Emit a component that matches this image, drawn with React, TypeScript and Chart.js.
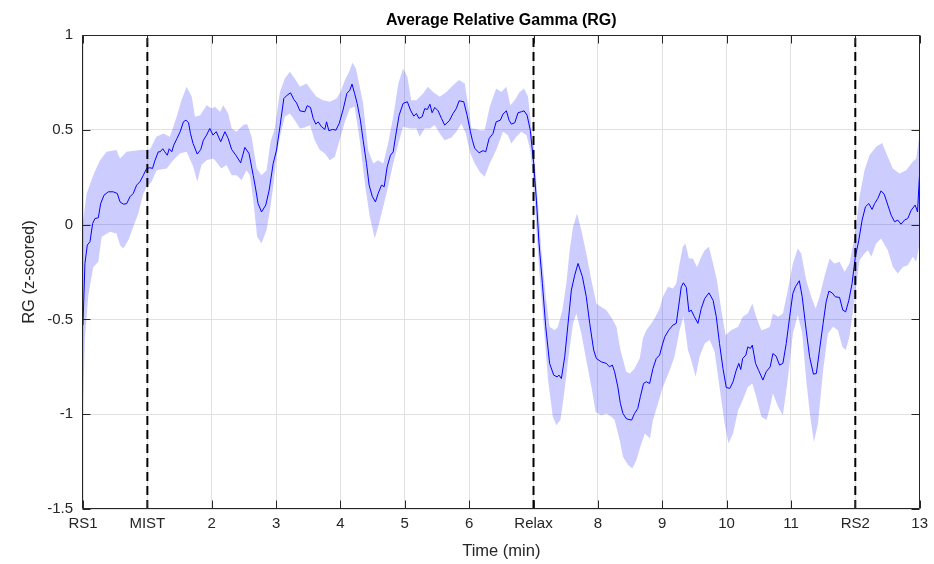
import React, { useEffect, useRef } from 'react';
import { Chart, registerables } from 'chart.js';

Chart.register(...registerables);

const chartTitle = 'Average Relative Gamma (RG)';
const xAxisTitle = 'Time (min)';
const yAxisTitle = 'RG (z-scored)';

const xTickValues = [0, 1, 2, 3, 4, 5, 6, 7, 8, 9, 10, 11, 12, 13];
const xTickLabels = ['RS1', 'MIST', '2', '3', '4', '5', '6', 'Relax', '8', '9', '10', '11', 'RS2', '13'];
const yTickValues = [-1.5, -1, -0.5, 0, 0.5, 1];
const yTickLabels = ['-1.5', '-1', '-0.5', '0', '0.5', '1'];
const eventTimes = [1, 7, 12];

const meanT = [
  0, 0.03, 0.067, 0.109, 0.15, 0.186, 0.238, 0.274, 0.326, 0.393, 0.47, 0.533, 0.575, 0.626, 0.678, 0.73, 0.78, 0.833, 0.885, 0.937, 0.989,
  1.04, 1.08, 1.12, 1.17, 1.2, 1.24, 1.27, 1.31, 1.34, 1.38, 1.41, 1.46, 1.51, 1.56, 1.6, 1.64, 1.67, 1.71, 1.775, 1.83, 1.87, 1.92, 1.97,
  2.02, 2.07, 2.14, 2.205, 2.256, 2.31, 2.375, 2.45, 2.515, 2.58, 2.645, 2.686, 2.72, 2.774, 2.84, 2.893, 2.955,
  3.007, 3.06, 3.12, 3.173, 3.225, 3.276, 3.318, 3.37, 3.447, 3.483, 3.535, 3.577, 3.618, 3.654, 3.706, 3.758, 3.784, 3.82, 3.877, 3.93, 3.98,
  4.04, 4.1, 4.146, 4.18, 4.22, 4.26, 4.31, 4.353, 4.405, 4.446, 4.497, 4.544, 4.586, 4.638, 4.68, 4.726, 4.778, 4.82, 4.86, 4.912, 4.974,
  5.04, 5.088, 5.14, 5.18, 5.22, 5.27, 5.31, 5.35, 5.39, 5.424, 5.466, 5.518, 5.57, 5.62, 5.69, 5.75, 5.8, 5.844, 5.916, 5.968,
  6.02, 6.05, 6.087, 6.155, 6.216, 6.258, 6.31, 6.37, 6.42, 6.485, 6.526, 6.578, 6.62, 6.656, 6.708, 6.76, 6.81, 6.853, 6.9, 6.95,
  7.003, 7.045, 7.086, 7.138, 7.19, 7.25, 7.314, 7.366, 7.397, 7.433, 7.485, 7.537, 7.588, 7.64, 7.692, 7.76, 7.82, 7.873, 7.935, 7.977,
  8.054, 8.132, 8.18, 8.225, 8.26, 8.31, 8.35, 8.39, 8.44, 8.483, 8.525, 8.57, 8.62, 8.66, 8.71, 8.753, 8.804, 8.856, 8.908, 8.96,
  9.0, 9.04, 9.1, 9.167, 9.218, 9.254, 9.296, 9.33, 9.375, 9.415, 9.45, 9.5, 9.555, 9.607, 9.66, 9.726, 9.79, 9.84, 9.89, 9.944, 9.995,
  10.05, 10.1, 10.15, 10.19, 10.22, 10.25, 10.3, 10.33, 10.37, 10.4, 10.45, 10.5, 10.564, 10.616, 10.678, 10.72, 10.77, 10.823, 10.875, 10.927, 10.98,
  11.03, 11.07, 11.13, 11.175, 11.237, 11.29, 11.35, 11.395, 11.444, 11.5, 11.547, 11.59, 11.64, 11.69, 11.755, 11.806, 11.85, 11.9, 11.95,
  12.0, 12.055, 12.106, 12.158, 12.21, 12.26, 12.3, 12.35, 12.4, 12.45, 12.505, 12.557, 12.61, 12.66, 12.71, 12.764, 12.815, 12.868, 12.93, 12.967, 13.0,
];
const meanV = [
  -0.53, -0.205, -0.108, -0.09, 0.006, 0.032, 0.036, 0.11, 0.155, 0.173, 0.173, 0.164, 0.12, 0.108, 0.11, 0.147, 0.164, 0.208, 0.226, 0.26, 0.296,
  0.3, 0.296, 0.34, 0.384, 0.384, 0.4, 0.384, 0.366, 0.4, 0.384, 0.419, 0.454, 0.49, 0.542, 0.551, 0.537, 0.48, 0.428, 0.372, 0.396, 0.445, 0.472, 0.507,
  0.472, 0.49, 0.437, 0.49, 0.454, 0.396, 0.366, 0.326, 0.407, 0.375, 0.26, 0.182, 0.111, 0.067, 0.103, 0.182, 0.322,
  0.393, 0.516, 0.665, 0.683, 0.695, 0.66, 0.642, 0.6, 0.595, 0.627, 0.618, 0.56, 0.53, 0.542, 0.516, 0.502, 0.542, 0.495, 0.502, 0.498, 0.533,
  0.604, 0.692, 0.709, 0.741, 0.692, 0.639, 0.551, 0.445, 0.322, 0.208, 0.147, 0.12, 0.164, 0.208, 0.2, 0.305, 0.366, 0.384, 0.472, 0.577, 0.639,
  0.648, 0.604, 0.572, 0.586, 0.56, 0.569, 0.612, 0.607, 0.635, 0.59, 0.618, 0.6, 0.56, 0.525, 0.547, 0.586, 0.612, 0.653, 0.648, 0.577,
  0.49, 0.445, 0.402, 0.379, 0.39, 0.384, 0.454, 0.48, 0.542, 0.551, 0.583, 0.6, 0.551, 0.53, 0.537, 0.59, 0.595, 0.6, 0.577, 0.498,
  0.322, 0.129, -0.1, -0.31, -0.539, -0.732, -0.794, -0.803, -0.794, -0.812, -0.697, -0.521, -0.346, -0.267, -0.205, -0.275, -0.381, -0.521, -0.662, -0.706,
  -0.724, -0.732, -0.75, -0.741, -0.776, -0.856, -0.944, -0.996, -1.023, -1.028, -1.031, -0.996, -0.97, -0.908, -0.838, -0.829, -0.838, -0.759, -0.706, -0.688,
  -0.636, -0.592, -0.557, -0.53, -0.521, -0.434, -0.328, -0.307, -0.332, -0.46, -0.451, -0.486, -0.521, -0.442, -0.39, -0.36, -0.399, -0.486, -0.627, -0.759, -0.859,
  -0.864, -0.829, -0.768, -0.732, -0.764, -0.706, -0.688, -0.645, -0.653, -0.636, -0.732, -0.77, -0.82, -0.776, -0.75, -0.68, -0.694, -0.741, -0.732, -0.627, -0.486,
  -0.363, -0.328, -0.296, -0.381, -0.557, -0.697, -0.789, -0.785, -0.662, -0.521, -0.407, -0.351, -0.36, -0.381, -0.384, -0.451, -0.46, -0.399, -0.31,
  -0.17, -0.082, 0.024, 0.094, 0.111, 0.08, 0.111, 0.138, 0.178, 0.16, 0.103, 0.05, 0.015, 0.024, 0.002, 0.024, 0.032, 0.076, 0.103, 0.067, 0.278,
];

const upperT = [
  0, 0.057, 0.16, 0.264, 0.367, 0.52, 0.575, 0.678, 0.885, 1.04, 1.14, 1.25, 1.35, 1.455, 1.53, 1.61, 1.69, 1.74, 1.82, 1.92,
  2.0, 2.05, 2.13, 2.18, 2.256, 2.31, 2.386, 2.49, 2.55, 2.62, 2.7, 2.774, 2.852, 2.914, 2.98,
  3.06, 3.137, 3.214, 3.29, 3.37, 3.473, 3.55, 3.629, 3.73, 3.836, 3.939,
  4.0, 4.07, 4.135, 4.186, 4.24, 4.3, 4.353, 4.43, 4.51, 4.586, 4.665, 4.74, 4.82, 4.9, 4.974,
  5.04, 5.1, 5.18, 5.285, 5.36, 5.44, 5.543, 5.647, 5.75, 5.844, 5.932, 5.984,
  6.036, 6.07, 6.165, 6.24, 6.32, 6.42, 6.5, 6.578, 6.64, 6.708, 6.785, 6.853, 6.915, 6.966,
  7.018, 7.07, 7.122, 7.19, 7.25, 7.33, 7.38, 7.448, 7.51, 7.562, 7.614, 7.676, 7.743, 7.82, 7.9, 7.977,
  8.054, 8.13, 8.21, 8.29, 8.35, 8.44, 8.5, 8.57, 8.65, 8.7, 8.753, 8.83, 8.88, 8.96,
  9.01, 9.09, 9.167, 9.218, 9.27, 9.32, 9.36, 9.415, 9.477, 9.54, 9.607, 9.66, 9.726, 9.79, 9.85, 9.918, 9.985,
  10.07, 10.18, 10.25, 10.33, 10.4, 10.46, 10.54, 10.62, 10.67, 10.72, 10.8, 10.875, 10.95,
  11.03, 11.107, 11.16, 11.237, 11.315, 11.384, 11.444, 11.52, 11.6, 11.675, 11.755, 11.833, 11.91, 11.988,
  12.065, 12.143, 12.22, 12.324, 12.417, 12.505, 12.583, 12.687, 12.79, 12.894, 12.946, 13.0,
];
const upperV = [
  0.02, 0.164, 0.261, 0.34, 0.384, 0.393, 0.349, 0.384, 0.393, 0.396, 0.463, 0.48, 0.463, 0.569, 0.656, 0.727, 0.674, 0.569, 0.577, 0.63,
  0.612, 0.621, 0.595, 0.63, 0.586, 0.507, 0.49, 0.525, 0.53, 0.463, 0.296, 0.26, 0.287, 0.437, 0.507,
  0.7, 0.77, 0.806, 0.77, 0.727, 0.744, 0.709, 0.674, 0.656, 0.648, 0.665,
  0.7, 0.762, 0.806, 0.853, 0.823, 0.727, 0.639, 0.393, 0.322, 0.34, 0.322, 0.428, 0.569, 0.744, 0.823,
  0.78, 0.656, 0.656, 0.692, 0.727, 0.7, 0.674, 0.7, 0.735, 0.762, 0.744, 0.63,
  0.507, 0.507, 0.498, 0.498, 0.621, 0.718, 0.7, 0.727, 0.63, 0.656, 0.7, 0.718, 0.674, 0.516,
  0.34, 0.111, -0.135, -0.381, -0.539, -0.557, -0.539, -0.451, -0.31, -0.135, -0.012, 0.059, -0.029, -0.152, -0.293, -0.416,
  -0.434, -0.451, -0.49, -0.54, -0.66, -0.776, -0.785, -0.759, -0.706, -0.6, -0.557, -0.521, -0.495, -0.442,
  -0.381, -0.328, -0.337, -0.31, -0.205, -0.117, -0.1, -0.179, -0.179, -0.223, -0.17, -0.135, -0.117, -0.205, -0.293, -0.451, -0.583,
  -0.557, -0.539, -0.486, -0.469, -0.416, -0.486, -0.557, -0.548, -0.54, -0.469, -0.486, -0.469, -0.346,
  -0.205, -0.126, -0.152, -0.293, -0.381, -0.442, -0.381, -0.275, -0.179, -0.205, -0.196, -0.249, -0.205, -0.064,
  0.147, 0.287, 0.366, 0.41, 0.431, 0.358, 0.296, 0.27, 0.287, 0.331, 0.349, 0.48,
];

const lowerT = [
  0, 0.03, 0.083, 0.16, 0.238, 0.29, 0.42, 0.52, 0.575, 0.626, 0.704, 0.78, 0.86, 0.937, 0.99,
  1.066, 1.144, 1.3, 1.4, 1.506, 1.61, 1.713, 1.775, 1.84, 1.92,
  2.02, 2.05, 2.15, 2.23, 2.31, 2.386, 2.464, 2.54, 2.593, 2.645, 2.706, 2.774, 2.852, 2.904, 2.955,
  3.007, 3.06, 3.137, 3.214, 3.29, 3.37, 3.447, 3.525, 3.6, 3.68, 3.758, 3.836, 3.914, 3.99,
  4.07, 4.146, 4.22, 4.3, 4.38, 4.456, 4.534, 4.6, 4.665, 4.74, 4.82, 4.9, 4.974,
  5.077, 5.18, 5.23, 5.31, 5.39, 5.466, 5.543, 5.62, 5.725, 5.8, 5.88, 5.947,
  6.02, 6.087, 6.165, 6.24, 6.32, 6.42, 6.526, 6.6, 6.656, 6.734, 6.81, 6.89, 6.95,
  7.003, 7.045, 7.096, 7.16, 7.226, 7.3, 7.356, 7.418, 7.47, 7.537, 7.614, 7.666, 7.743, 7.82, 7.9, 7.966,
  8.054, 8.13, 8.21, 8.26, 8.34, 8.39, 8.47, 8.535, 8.6, 8.66, 8.73, 8.81, 8.856, 8.935,
  9.01, 9.117, 9.19, 9.27, 9.33, 9.4, 9.45, 9.52, 9.58, 9.66, 9.737, 9.814, 9.89, 9.97,
  10.03, 10.1, 10.18, 10.25, 10.33, 10.4, 10.46, 10.54, 10.62, 10.67, 10.72, 10.8, 10.875, 10.95,
  11.03, 11.107, 11.175, 11.237, 11.3, 11.357, 11.42, 11.5, 11.575, 11.655, 11.73, 11.8, 11.85, 11.91, 11.988,
  12.065, 12.143, 12.196, 12.248, 12.324, 12.4, 12.505, 12.583, 12.66, 12.74, 12.815, 12.894, 12.946, 13.0,
];
const lowerV = [
  -0.95, -0.6, -0.372, -0.223, -0.196, -0.064, -0.038, -0.047, -0.108, -0.126, -0.082, -0.012, 0.059, 0.164, 0.2,
  0.226, 0.287, 0.296, 0.34, 0.375, 0.384, 0.305, 0.226, 0.314, 0.34,
  0.349, 0.34, 0.296, 0.314, 0.26, 0.26, 0.234, 0.287, 0.26, 0.129, -0.064, -0.1, -0.029, 0.076, 0.2,
  0.358, 0.463, 0.569, 0.586, 0.551, 0.507, 0.512, 0.525, 0.445, 0.393, 0.375, 0.34, 0.358, 0.45,
  0.542, 0.612, 0.621, 0.445, 0.217, 0.041, -0.073, 0.006, 0.094, 0.2, 0.322, 0.428, 0.516,
  0.507, 0.507, 0.463, 0.507, 0.507, 0.525, 0.48, 0.445, 0.46, 0.49, 0.533, 0.48,
  0.375, 0.322, 0.278, 0.252, 0.322, 0.393, 0.49, 0.472, 0.428, 0.463, 0.49, 0.472, 0.393,
  0.217, -0.029, -0.275, -0.539, -0.82, -1.014, -1.058, -1.031, -0.908, -0.715, -0.521, -0.469, -0.574, -0.715, -0.856, -0.988,
  -1.005, -0.996, -1.014, -1.031, -1.137, -1.224, -1.268, -1.286, -1.242, -1.172, -1.102, -1.128, -1.031, -0.944,
  -0.856, -0.768, -0.697, -0.557, -0.486, -0.662, -0.715, -0.803, -0.697, -0.627, -0.609, -0.671, -0.856, -1.049,
  -1.154, -1.102, -0.979, -0.926, -0.856, -0.838, -0.908, -1.014, -1.03, -0.97, -0.891, -0.961, -1.005, -0.82,
  -0.574, -0.477, -0.574, -0.82, -1.014, -1.146, -1.049, -0.768, -0.574, -0.539, -0.557, -0.645, -0.662, -0.592, -0.398,
  -0.188, -0.152, -0.135, -0.17, -0.1, -0.073, -0.135, -0.223, -0.258, -0.223, -0.214, -0.17, -0.196, -0.1,
];

const FONT = "'Liberation Sans', Arial, Helvetica, sans-serif";
const AXIS_COLOR = '#262626';

const toPoints = (ts: number[], vs: number[]) => ts.map((t, i) => ({ x: t, y: vs[i] }));

const boxPlugin = {
  id: 'matlabBox',
  afterDatasetsDraw(chart: any) {
    const { ctx, chartArea } = chart;
    const { left, right, top, bottom } = chartArea;
    const xs = chart.scales.x;
    const ys = chart.scales.y;
    const tick = 8;
    ctx.save();
    ctx.strokeStyle = AXIS_COLOR;
    ctx.lineWidth = 1;
    ctx.beginPath();
    const L = Math.round(left) - 0.5;
    const R = Math.round(right) - 0.5;
    const T = Math.round(top) + 0.5;
    const B = Math.round(bottom) - 0.5;
    ctx.rect(L, T, R - L, B - T);
    xTickValues.forEach((v) => {
      const px = Math.round(xs.getPixelForValue(v)) + 0.5;
      ctx.moveTo(px, B);
      ctx.lineTo(px, B - tick);
      ctx.moveTo(px, T);
      ctx.lineTo(px, T + tick);
    });
    yTickValues.forEach((v) => {
      const py = Math.round(ys.getPixelForValue(v)) + 0.5;
      ctx.moveTo(L, py);
      ctx.lineTo(L + tick, py);
      ctx.moveTo(R, py);
      ctx.lineTo(R - tick, py);
    });
    ctx.stroke();
    ctx.restore();
  },
};

export default function App() {
  const canvasRef = useRef<HTMLCanvasElement | null>(null);

  useEffect(() => {
    const canvas = canvasRef.current;
    if (!canvas) return;
    const yMin = yTickValues[0];
    const yMax = yTickValues[yTickValues.length - 1];

    const eventSets = eventTimes.map((t) => ({
      label: 'event' + t,
      data: [
        { x: t, y: yMin },
        { x: t, y: yMax },
      ],
      borderColor: '#000000',
      borderWidth: 2,
      borderDash: [9, 5],
      pointRadius: 0,
      fill: false,
      order: 0,
    }));

    const chart = new Chart(canvas, {
      type: 'line',
      data: {
        datasets: [
          {
            label: 'mean',
            data: toPoints(meanT, meanV),
            borderColor: '#0000ff',
            borderWidth: 1,
            pointRadius: 0,
            fill: false,
            tension: 0,
            order: 1,
          },
          ...eventSets,
          {
            label: 'upper',
            data: toPoints(upperT, upperV),
            borderColor: 'rgba(0,0,0,0)',
            borderWidth: 0,
            backgroundColor: 'rgba(0,0,255,0.2)',
            pointRadius: 0,
            fill: '+1',
            tension: 0,
            order: 2,
          },
          {
            label: 'lower',
            data: toPoints(lowerT, lowerV),
            borderColor: 'rgba(0,0,0,0)',
            borderWidth: 0,
            pointRadius: 0,
            fill: false,
            tension: 0,
            order: 3,
          },
        ],
      },
      options: {
        responsive: false,
        animation: false,
        events: [],
        layout: { padding: { left: 0, right: 14, top: 0, bottom: 0 } },
        plugins: {
          legend: { display: false },
          tooltip: { enabled: false },
          title: {
            display: true,
            text: chartTitle,
            fullSize: false,
            color: '#000000',
            font: { family: FONT, size: 16, weight: 'bold' },
            padding: { top: 11, bottom: 4.8 },
          },
        },
        scales: {
          x: {
            type: 'linear',
            min: xTickValues[0],
            max: xTickValues[xTickValues.length - 1],
            afterBuildTicks: (scale: any) => {
              scale.ticks = xTickValues.map((v) => ({ value: v }));
            },
            afterFit: (scale: any) => {
              scale.height = 55;
            },
            ticks: {
              autoSkip: false,
              maxRotation: 0,
              padding: 6,
              color: AXIS_COLOR,
              font: { family: FONT, size: 15 },
              callback: (v: any) => {
                const i = xTickValues.indexOf(Number(v));
                return i >= 0 ? xTickLabels[i] : '';
              },
            },
            grid: { color: '#e1e1e1', lineWidth: 1, drawTicks: false },
            border: { display: false },
            title: {
              display: true,
              text: xAxisTitle,
              color: AXIS_COLOR,
              font: { family: FONT, size: 16.5 },
              padding: { top: 0, bottom: 3 },
            },
          },
          y: {
            type: 'linear',
            min: yMin,
            max: yMax,
            afterBuildTicks: (scale: any) => {
              scale.ticks = yTickValues.map((v) => ({ value: v }));
            },
            afterFit: (scale: any) => {
              scale.width = 83;
            },
            ticks: {
              padding: 10,
              color: AXIS_COLOR,
              font: { family: FONT, size: 15 },
              callback: (v: any) => {
                const i = yTickValues.indexOf(Number(v));
                return i >= 0 ? yTickLabels[i] : '';
              },
            },
            grid: { color: '#e1e1e1', lineWidth: 1, drawTicks: false },
            border: { display: false },
            title: {
              display: true,
              text: yAxisTitle,
              color: AXIS_COLOR,
              font: { family: FONT, size: 16.5 },
              padding: { top: 20, bottom: 0 },
            },
          },
        },
      },
      plugins: [boxPlugin],
    } as any);

    return () => chart.destroy();
  }, []);

  return (
    <div style={{ position: 'absolute', left: 0, top: 0, width: 934, height: 564, background: '#ffffff' }}>
      <canvas ref={canvasRef} width={934} height={564} style={{ display: 'block' }} />
    </div>
  );
}
